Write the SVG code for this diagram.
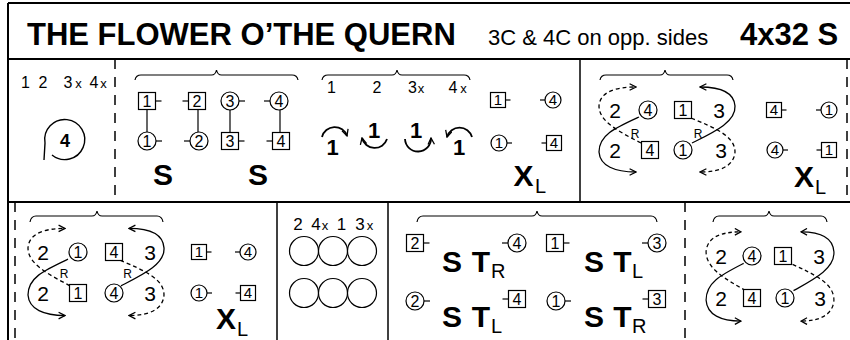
<svg xmlns="http://www.w3.org/2000/svg" width="850" height="340" viewBox="0 0 850 340">
<defs>
<style>
text{font-family:"Liberation Sans",Arial,Helvetica,sans-serif;fill:#000}
.fr{stroke:#000;stroke-width:2;fill:none}
.sep{stroke:#000;stroke-width:1.5;fill:none}
.sepd{stroke:#000;stroke-width:1.5;fill:none;stroke-dasharray:10 8}
.br{stroke:#000;stroke-width:1.2;fill:none}
.sq{fill:#fff;stroke:#000;stroke-width:1.2}
.ci{fill:#fff;stroke:#000;stroke-width:1.2}
.tk{stroke:#000;stroke-width:1.2}
.d{font-size:16px;text-anchor:middle}
.ds{font-size:15px;text-anchor:middle}
.n{font-size:21px;text-anchor:middle}
.lab{font-size:16px;text-anchor:middle}
.sx{font-size:13px;text-anchor:middle}
.big{font-size:30px;font-weight:bold;text-anchor:middle}
.sub{font-size:20px}
.r{font-size:12px;text-anchor:middle}
.cv{stroke:#000;stroke-width:1.3;fill:none}
.cvd{stroke:#000;stroke-width:1.3;fill:none;stroke-dasharray:4 3}
.tn{stroke:#000;stroke-width:1.8;fill:none}
</style>
<marker id="ah" viewBox="0 0 10 10" refX="9" refY="5" markerWidth="8" markerHeight="8" markerUnits="userSpaceOnUse" orient="auto">
<path d="M1,1 L9,5 L1,9" fill="none" stroke="#000" stroke-width="1.6"/>
</marker>
</defs>
<rect width="850" height="340" fill="#fff"/>

<g id="frame">
<line class="fr" x1="8" y1="3" x2="850" y2="3"/>
<line class="fr" x1="8" y1="3" x2="8" y2="340"/>
<line class="fr" x1="8" y1="59" x2="850" y2="59"/>
<line class="fr" x1="8" y1="202" x2="850" y2="202"/>
<line class="sepd" x1="115" y1="59" x2="115" y2="202"/>
<line class="sep" x1="580" y1="59" x2="580" y2="202"/>
<line class="sepd" x1="847" y1="59" x2="847" y2="202"/>
<line class="sepd" x1="15" y1="202" x2="15" y2="340"/>
<line class="sep" x1="277" y1="202" x2="277" y2="340"/>
<line class="sep" x1="388" y1="202" x2="388" y2="340"/>
<line class="sepd" x1="685" y1="202" x2="685" y2="340"/>
</g>

<g id="title">
<text x="27" y="45" font-size="31" font-weight="bold">THE FLOWER O’THE QUERN</text>
<text x="488" y="45" font-size="22">3C &amp; 4C on opp. sides</text>
<text x="740" y="45" font-size="31" font-weight="bold">4x32 S</text>
</g>

<g id="braces">
<path class="br" d="M135 80 Q136 75 141 75 L211.5 75 Q215.5 75 216.5 70 Q217.5 75 221.5 75 L292 75 Q297 75 298 80"/>
<path class="br" d="M322 80 Q323 75 328 75 L392 75 Q396 75 397 70 Q398 75 402 75 L464 75 Q469 75 470 80"/>
<path class="br" d="M600 80 Q601 75 606 75 L660 75 Q664 75 665 70 Q666 75 670 75 L727 75 Q732 75 733 80"/>
<path class="br" d="M30 222 Q31 216 36 216 L92 216 Q96 216 97 211 Q98 216 102 216 L157 216 Q162 216 163 222"/>
<path class="br" d="M417 222 Q418 216 423 216 L532 216 Q536 216 537 211 Q538 216 542 216 L651 216 Q656 216 657 222"/>
<path class="br" d="M713 222 Q714 216 719 216 L764 216 Q768 216 769 211 Q770 216 774 216 L821 216 Q826 216 827 222"/>
</g>

<g id="cellA">
<text class="lab" x="25.5" y="88">1</text>
<text class="lab" x="43" y="88">2</text>
<text class="lab" x="68" y="88">3</text>
<text class="sx" x="78.5" y="88">x</text>
<text class="lab" x="94" y="88">4</text>
<text class="sx" x="103.5" y="88">x</text>
<path d="M44 160 L45 143 A20 20 0 1 1 52 155" fill="none" stroke="#000" stroke-width="1.4"/>
<text x="65" y="146.5" font-size="18" font-weight="bold" text-anchor="middle">4</text>
</g>

<g id="connectors">
<line class="tk" x1="147" y1="109.5" x2="147" y2="132"/>
<line class="tk" x1="198" y1="109.5" x2="198" y2="132"/>
<line class="tk" x1="230" y1="110" x2="230" y2="132.5"/>
<line class="tk" x1="280" y1="110" x2="280" y2="132.5"/>
<path class="tn" d="M322 137 A13 13 0 0 1 347 136" marker-end="url(#ah)"/>
<path class="tn" d="M387 139 A13 13 0 0 1 362 138" marker-end="url(#ah)"/>
<path class="tn" d="M405 139 A13 13 0 0 0 431 138" marker-end="url(#ah)"/>
<path class="tn" d="M472 137 A13 13 0 0 0 447 137" marker-end="url(#ah)"/>
<g id="figD" transform="translate(667,110)">
<path class="cvd" d="M-26 33 C-47 22 -68 12 -68 -4 C-67 -18 -52 -23 -31 -23" marker-end="url(#ah)"/>
<path class="cv" d="M-28 7 C-52 18 -68 25 -68 42 C-67 56 -52 62 -31 62" marker-end="url(#ah)"/>
<path class="cv" d="M25 33 C47 22 69 12 68 -4 C67 -18 53 -23 33 -23" marker-end="url(#ah)"/>
<path class="cvd" d="M24 8 C48 18 68 26 68 42 C67 56 53 62 33 62" marker-end="url(#ah)"/>
</g>
<g id="figE" transform="translate(96,252) scale(1,1.025)">
<path class="cvd" d="M-26 33 C-47 22 -68 12 -68 -4 C-67 -18 -52 -23 -31 -23" marker-end="url(#ah)"/>
<path class="cv" d="M-28 7 C-52 18 -68 25 -68 42 C-67 56 -52 62 -31 62" marker-end="url(#ah)"/>
<path class="cv" d="M25 33 C47 22 69 12 68 -4 C67 -18 53 -23 33 -23" marker-end="url(#ah)"/>
<path class="cvd" d="M24 8 C48 18 68 26 68 42 C67 56 53 62 33 62" marker-end="url(#ah)"/>
</g>
<g id="figF" transform="translate(770,256) scale(0.94,1.05)">
<path class="cvd" d="M-26 33 C-47 22 -68 12 -68 -4 C-67 -18 -52 -23 -31 -23" marker-end="url(#ah)"/>
<path class="cv" d="M-28 7 C-52 18 -68 25 -68 42 C-67 56 -52 62 -31 62" marker-end="url(#ah)"/>
<path class="cv" d="M25 33 C47 22 69 12 68 -4 C67 -18 53 -23 33 -23" marker-end="url(#ah)"/>
<path class="cvd" d="M24 8 C48 18 68 26 68 42 C67 56 53 62 33 62" marker-end="url(#ah)"/>
</g>
</g>

<g id="cellB">
<g id="b-sq1"><rect class="sq" x="138.5" y="92.5" width="17" height="17"/><text class="d" x="147" y="106.8">1</text><line class="tk" x1="155.5" y1="101" x2="161.5" y2="101"/></g>
<g id="b-sq2"><rect class="sq" x="188.5" y="92.5" width="17" height="17"/><text class="d" x="197" y="106.8">2</text><line class="tk" x1="188.5" y1="101" x2="182.5" y2="101"/></g>
<g id="b-ci3"><circle class="ci" cx="230" cy="101" r="9"/><text class="d" x="230" y="106.8">3</text><line class="tk" x1="239" y1="101" x2="245" y2="101"/></g>
<g id="b-ci4"><circle class="ci" cx="279" cy="101" r="9"/><text class="d" x="279" y="106.8">4</text><line class="tk" x1="270" y1="101" x2="264" y2="101"/></g>
<g id="b-ci1"><circle class="ci" cx="147" cy="141" r="9"/><text class="d" x="147" y="146.8">1</text><line class="tk" x1="156" y1="141" x2="162" y2="141"/></g>
<g id="b-ci2"><circle class="ci" cx="199" cy="141" r="9"/><text class="d" x="199" y="146.8">2</text><line class="tk" x1="190" y1="141" x2="184" y2="141"/></g>
<g id="b-sq3"><rect class="sq" x="221.5" y="132.5" width="17" height="17"/><text class="d" x="230" y="146.8">3</text><line class="tk" x1="238.5" y1="141" x2="244.5" y2="141"/></g>
<g id="b-sq4"><rect class="sq" x="272.5" y="132.5" width="17" height="17"/><text class="d" x="281" y="146.8">4</text><line class="tk" x1="272.5" y1="141" x2="266.5" y2="141"/></g>
<text class="big" x="163" y="185">S</text>
<text class="big" x="258" y="185">S</text>
</g>

<g id="cellC">
<text class="lab" x="331.5" y="93">1</text>
<text class="lab" x="377" y="93">2</text>
<text class="lab" x="412.5" y="93">3</text>
<text class="sx" x="421" y="93">x</text>
<text class="lab" x="453" y="93">4</text>
<text class="sx" x="463.5" y="93">x</text>
<text x="332.5" y="155" font-size="22" font-weight="bold" text-anchor="middle">1</text>
<text x="374" y="138" font-size="22" font-weight="bold" text-anchor="middle">1</text>
<text x="416" y="138" font-size="22" font-weight="bold" text-anchor="middle">1</text>
<text x="459" y="155" font-size="22" font-weight="bold" text-anchor="middle">1</text>
<g id="c-sq1"><rect class="sq" x="490.5" y="92.5" width="15" height="15"/><text class="ds" x="498" y="105.4">1</text><line class="tk" x1="505.5" y1="100" x2="510.5" y2="100"/></g>
<g id="c-ci4"><circle class="ci" cx="553" cy="100" r="8"/><text class="ds" x="553" y="105.4">4</text><line class="tk" x1="545" y1="100" x2="540" y2="100"/></g>
<g id="c-ci1"><circle class="ci" cx="499" cy="143" r="8"/><text class="ds" x="499" y="148.4">1</text><line class="tk" x1="507" y1="143" x2="512" y2="143"/></g>
<g id="c-sq4"><rect class="sq" x="546.5" y="135.5" width="15" height="15"/><text class="ds" x="554" y="148.4">4</text><line class="tk" x1="546.5" y1="143" x2="541.5" y2="143"/></g>
<text class="big" x="523.5" y="186">X</text><text class="sub" x="535" y="193">L</text>
</g>

<g id="cellD">
<text class="n" x="615" y="117.5">2</text>
<g id="d-ci4"><circle class="ci" cx="648" cy="110" r="9"/><text class="d" x="648" y="115.8">4</text></g>
<g id="d-sq1"><rect class="sq" x="674.5" y="101.5" width="17" height="17"/><text class="d" x="683" y="115.8">1</text></g>
<text class="n" x="719" y="117.5">3</text>
<text class="n" x="615" y="157.5">2</text>
<g id="d-sq4"><rect class="sq" x="641.5" y="141.5" width="17" height="17"/><text class="d" x="650" y="155.8">4</text></g>
<g id="d-ci1"><circle class="ci" cx="683" cy="150" r="9"/><text class="d" x="683" y="155.8">1</text></g>
<text class="n" x="721" y="157.5">3</text>
<text class="r" x="635" y="138">R</text>
<text class="r" x="698" y="138">R</text>
<g id="d-sq4s"><rect class="sq" x="766.5" y="102.5" width="15" height="15"/><text class="ds" x="774" y="115.4">4</text><line class="tk" x1="781.5" y1="110" x2="786.5" y2="110"/></g>
<g id="d-ci1s"><circle class="ci" cx="829" cy="110" r="8"/><text class="ds" x="829" y="115.4">1</text><line class="tk" x1="821" y1="110" x2="816" y2="110"/></g>
<g id="d-ci4s"><circle class="ci" cx="775" cy="150" r="8"/><text class="ds" x="775" y="155.4">4</text><line class="tk" x1="783" y1="150" x2="788" y2="150"/></g>
<g id="d-sq1s"><rect class="sq" x="821.5" y="142.5" width="15" height="15"/><text class="ds" x="829" y="155.4">1</text><line class="tk" x1="821.5" y1="150" x2="816.5" y2="150"/></g>
<text class="big" x="804" y="187">X</text><text class="sub" x="815" y="194">L</text>
</g>

<g id="cellE">
<text class="n" x="43" y="259.5">2</text>
<g id="e-ci1"><circle class="ci" cx="78" cy="252" r="9"/><text class="d" x="78" y="257.8">1</text></g>
<g id="e-sq4"><rect class="sq" x="105.5" y="243.5" width="17" height="17"/><text class="d" x="114" y="257.8">4</text></g>
<text class="n" x="150" y="259.5">3</text>
<text class="n" x="43" y="300.5">2</text>
<g id="e-sq1"><rect class="sq" x="69.5" y="284.5" width="17" height="17"/><text class="d" x="78" y="298.8">1</text></g>
<g id="e-ci4"><circle class="ci" cx="114" cy="293" r="9"/><text class="d" x="114" y="298.8">4</text></g>
<text class="n" x="150" y="300.5">3</text>
<text class="r" x="64" y="278">R</text>
<text class="r" x="127.5" y="278">R</text>
<g id="e-sq1s"><rect class="sq" x="191.5" y="244.5" width="15" height="15"/><text class="ds" x="199" y="257.4">1</text><line class="tk" x1="206.5" y1="252" x2="211.5" y2="252"/></g>
<g id="e-ci4s"><circle class="ci" cx="248" cy="252" r="8"/><text class="ds" x="248" y="257.4">4</text><line class="tk" x1="240" y1="252" x2="235" y2="252"/></g>
<g id="e-ci1s"><circle class="ci" cx="199" cy="293" r="8"/><text class="ds" x="199" y="298.4">1</text><line class="tk" x1="207" y1="293" x2="212" y2="293"/></g>
<g id="e-sq4s"><rect class="sq" x="240.5" y="285.5" width="15" height="15"/><text class="ds" x="248" y="298.4">4</text><line class="tk" x1="240.5" y1="293" x2="235.5" y2="293"/></g>
<text class="big" x="226" y="329">X</text><text class="sub" x="237" y="336">L</text>
</g>

<g id="cellCircles">
<text x="298" y="230" font-size="17" text-anchor="middle">2</text>
<text x="316" y="230" font-size="17" text-anchor="middle">4</text>
<text class="sx" x="325" y="230">x</text>
<text x="341.5" y="230" font-size="17" text-anchor="middle">1</text>
<text x="360" y="230" font-size="17" text-anchor="middle">3</text>
<text class="sx" x="370" y="230">x</text>
<circle class="ci" cx="304" cy="251" r="14.5"/>
<circle class="ci" cx="333" cy="251" r="14.5"/>
<circle class="ci" cx="362" cy="251" r="14.5"/>
<circle class="ci" cx="304" cy="293" r="14.5"/>
<circle class="ci" cx="333" cy="293" r="14.5"/>
<circle class="ci" cx="362" cy="293" r="14.5"/>
</g>

<g id="cellG">
<g id="g-sq2"><rect class="sq" x="406.5" y="234.5" width="17" height="17"/><text class="d" x="415" y="248.8">2</text><line class="tk" x1="423.5" y1="243" x2="429.5" y2="243"/></g>
<text class="big" x="452" y="272">S</text><text class="big" x="481" y="272">T</text><text class="sub" x="491" y="278">R</text>
<g id="g-ci4"><circle class="ci" cx="517" cy="243" r="9"/><text class="d" x="517" y="248.8">4</text><line class="tk" x1="508" y1="243" x2="502" y2="243"/></g>
<g id="g-sq1"><rect class="sq" x="546.5" y="234.5" width="17" height="17"/><text class="d" x="555" y="248.8">1</text><line class="tk" x1="563.5" y1="243" x2="569.5" y2="243"/></g>
<text class="big" x="594" y="272">S</text><text class="big" x="622.5" y="272">T</text><text class="sub" x="632" y="278">L</text>
<g id="g-ci3"><circle class="ci" cx="657" cy="243" r="9"/><text class="d" x="657" y="248.8">3</text><line class="tk" x1="648" y1="243" x2="642" y2="243"/></g>
<g id="g-ci2"><circle class="ci" cx="415" cy="301" r="9"/><text class="d" x="415" y="306.8">2</text><line class="tk" x1="424" y1="301" x2="430" y2="301"/></g>
<text class="big" x="452" y="327">S</text><text class="big" x="481" y="327">T</text><text class="sub" x="491" y="333">L</text>
<g id="g-sq4"><rect class="sq" x="508.5" y="290.5" width="17" height="17"/><text class="d" x="517" y="304.8">4</text><line class="tk" x1="508.5" y1="299" x2="502.5" y2="299"/></g>
<g id="g-ci1"><circle class="ci" cx="556" cy="301" r="9"/><text class="d" x="556" y="306.8">1</text><line class="tk" x1="565" y1="301" x2="571" y2="301"/></g>
<text class="big" x="594" y="327">S</text><text class="big" x="622.5" y="327">T</text><text class="sub" x="632" y="333">R</text>
<g id="g-sq3"><rect class="sq" x="648.5" y="290.5" width="17" height="17"/><text class="d" x="657" y="304.8">3</text><line class="tk" x1="648.5" y1="299" x2="642.5" y2="299"/></g>
</g>

<g id="cellF">
<text class="n" x="721" y="263.5">2</text>
<g id="f-ci4"><circle class="ci" cx="752" cy="256" r="9"/><text class="d" x="752" y="261.8">4</text></g>
<g id="f-sq1"><rect class="sq" x="774.5" y="247.5" width="17" height="17"/><text class="d" x="783" y="261.8">1</text></g>
<text class="n" x="819" y="263.5">3</text>
<text class="n" x="721" y="305.5">2</text>
<g id="f-sq4"><rect class="sq" x="743.5" y="289.5" width="17" height="17"/><text class="d" x="752" y="303.8">4</text></g>
<g id="f-ci1"><circle class="ci" cx="785" cy="298" r="9"/><text class="d" x="785" y="303.8">1</text></g>
<text class="n" x="820" y="305.5">3</text>
</g>
</svg>
